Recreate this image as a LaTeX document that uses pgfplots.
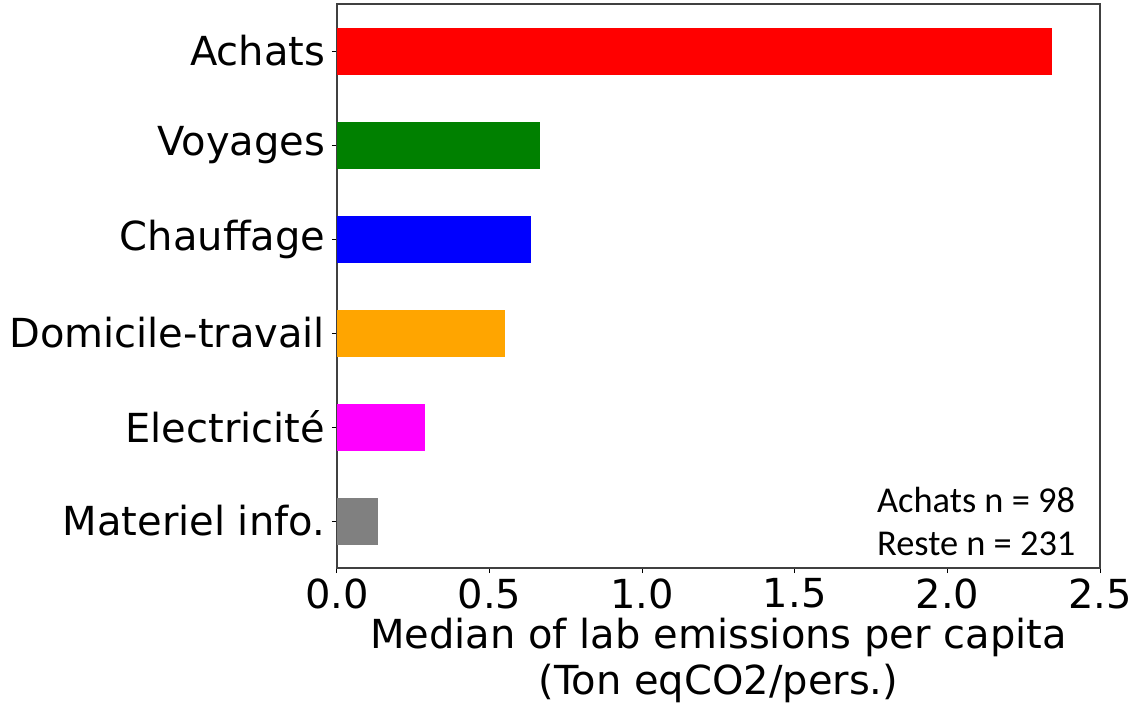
\documentclass[border=0pt]{standalone}
\usepackage{fontspec}
\setmainfont{DejaVu Sans}
\newfontfamily\carlito{Carlito}
\usepackage{pgfplots}
\pgfplotsset{compat=1.18}
\begin{document}
\begin{tikzpicture}
\path[use as bounding box] (-252.75pt,-107.25pt) rectangle (597.75pt,426pt);
\clip (-252.75pt,-107.25pt) rectangle (597.75pt,426pt);
\begin{axis}[
  at={(0,0)}, anchor=south west,
  scale only axis,
  width=572.25pt, height=423pt,
  xmin=0, xmax=2.5, ymin=-0.5, ymax=5.5,
  xtick={0,0.5,1,1.5,2,2.5},
  xticklabels={0.0,0.5,1.0,1.5,2.0,2.5},
  ytick={0,1,2,3,4,5},
  yticklabels={Materiel info.,Electricité,Domicile-travail,Chauffage,Voyages,Achats},
  tick align=outside,
  major tick length=3.75pt,
  tick style={black, line width=0.75pt},
  axis line style={line width=1pt, black!75},
  xtick pos=bottom, ytick pos=left,
  ticklabel style={font=\fontsize{30}{36}\selectfont, inner sep=0pt},
  xticklabel style={yshift=-4pt},
  yticklabel style={xshift=-5pt},
  xlabel={Median of lab emissions per capita\\(Ton eqCO2/pers.)},
  xlabel style={font=\fontsize{30}{34}\selectfont, align=center, inner sep=0pt, yshift=-7pt},
  xbar, bar width=0.5, bar shift=0,
]
\addplot[fill={rgb,255:red,255;green,0;blue,0}, draw=none] coordinates {(2.343,5)};
\addplot[fill={rgb,255:red,0;green,128;blue,0}, draw=none] coordinates {(0.665,4)};
\addplot[fill={rgb,255:red,0;green,0;blue,255}, draw=none] coordinates {(0.635,3)};
\addplot[fill={rgb,255:red,255;green,165;blue,0}, draw=none] coordinates {(0.550,2)};
\addplot[fill={rgb,255:red,255;green,0;blue,255}, draw=none] coordinates {(0.289,1)};
\addplot[fill={rgb,255:red,128;green,128;blue,128}, draw=none] coordinates {(0.135,0)};
\node[anchor=base west, inner sep=0pt, font=\carlito\fontsize{27.3}{32}\selectfont] at (axis cs:1.769,0.09) {Achats n = 98};
\node[anchor=base west, inner sep=0pt, font=\carlito\fontsize{27.3}{32}\selectfont] at (axis cs:1.769,-0.37) {Reste n = 231};
\end{axis}
\end{tikzpicture}
\end{document}
